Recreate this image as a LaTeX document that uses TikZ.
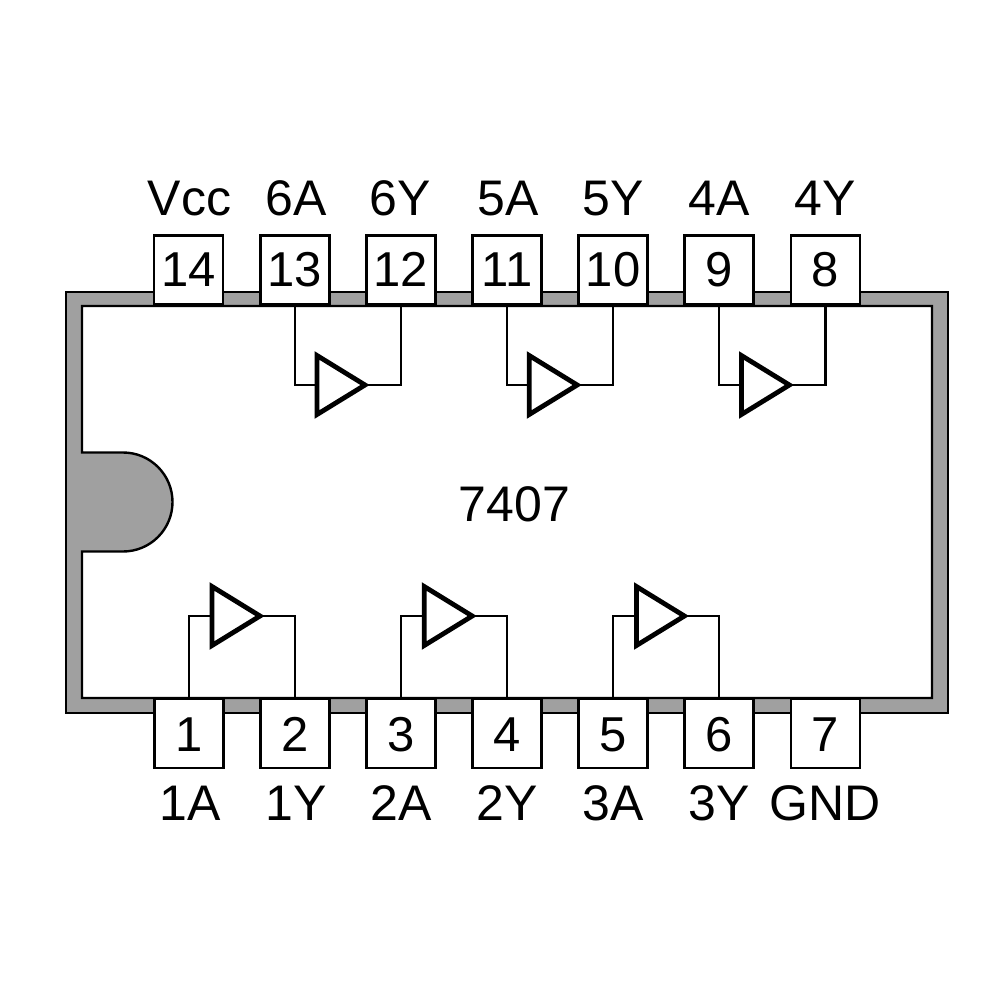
\documentclass[tikz,border=0pt]{standalone}
\usepackage{fontspec}
\setmainfont{Liberation Sans}
\usetikzlibrary{shapes.geometric}
\definecolor{bodygray}{HTML}{A0A0A0}
\tikzset{
  pinbox/.style={draw=black,line width=2.4pt,fill=white,minimum width=69pt,minimum height=69pt,inner sep=0pt,outer sep=0pt,text height=36pt,text depth=0pt,font=\fontsize{49}{60}\selectfont},
  toppin/.style={pinbox,text height=33pt},
  pinname/.style={anchor=base,inner sep=0pt,font=\fontsize{50}{60}\selectfont},
  buf/.style={draw=black,line width=4.8pt,fill=white,isosceles triangle,isosceles triangle stretches,minimum width=59pt,minimum height=48pt,inner sep=0pt,outer sep=0pt,miter limit=10,anchor=apex},
  wire/.style={draw=black,line width=2.2pt},
}
\begin{document}
\begin{tikzpicture}[x=1pt,y=-1pt]
\useasboundingbox (0,0) rectangle (1000,1000);
\fill[white] (0,0) rectangle (1000,1000);
% package body with notch
\draw[line width=2.4pt,fill=bodygray] (66,292) rectangle (948,713);
\draw[line width=2.4pt,fill=white] (82,306) -- (932,306) -- (932,698) -- (82,698) -- (82,551.5) -- (123,551.5) arc (90:-90:49.5) -- (82,452.5) -- cycle;
% pins
\foreach \n/\x in {14/188.5,13/295,12/401,11/507,10/613,9/719,8/825.5}
  \node[toppin] (p\n) at (\x,270) {\n};
\foreach \n/\x in {1/189,2/295,3/401,4/507,5/613,6/719,7/825.5}
  \node[pinbox] (p\n) at (\x,733.5) {\n};
% pin names
\foreach \t/\x in {Vcc/189.5,6A/296,6Y/400.5,5A/508,5Y/613.5,4A/719,4Y/825}
  \node[pinname] (top\t) at (\x,215) {\t};
\foreach \t/\x in {1A/190,1Y/296,2A/401,2Y/507,3A/613,3Y/719,GND/825.5}
  \node[pinname] (bot\t) at (\x,820) {\t};
\node[pinname] (title) at (514.5,521) {7407};
% buffers
\node[buf] (t6) at (365,385) {};
\node[buf] (t5) at (577.2,385) {};
\node[buf] (t4) at (789.4,385) {};
\node[buf] (t1) at (260,616) {};
\node[buf] (t2) at (472.2,616) {};
\node[buf] (t3) at (684.4,616) {};
% wires
\draw[wire] (p13.south) |- (t6.lower side);
\draw[wire] (t6.apex) -| (p12.south);
\draw[wire] (p11.south) |- (t5.lower side);
\draw[wire] (t5.apex) -| (p10.south);
\draw[wire] (p9.south) |- (t4.lower side);
\draw[wire] (t4.apex) -| (p8.south);
\draw[wire] (p1.north) |- (t1.lower side);
\draw[wire] (t1.apex) -| (p2.north);
\draw[wire] (p3.north) |- (t2.lower side);
\draw[wire] (t2.apex) -| (p4.north);
\draw[wire] (p5.north) |- (t3.lower side);
\draw[wire] (t3.apex) -| (p6.north);
\end{tikzpicture}
\end{document}
